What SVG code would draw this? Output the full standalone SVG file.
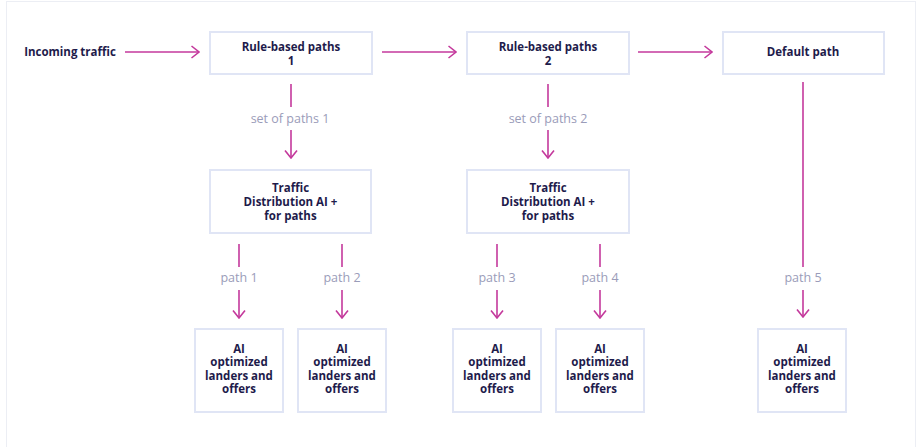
<svg xmlns="http://www.w3.org/2000/svg" width="921" height="447" viewBox="0 0 921 447">
<defs>
<style>
.box{fill:#ffffff;stroke:#e0e5f5;stroke-width:2}
.t{font-family:"Open Sans","Noto Sans",sans-serif;font-weight:700;font-size:11.5px;fill:#1e1b4b;text-anchor:middle}
.lbl{font-family:"Open Sans","Noto Sans",sans-serif;font-size:12.5px;fill:#9a9cb9;text-anchor:middle}
.ln{stroke:#c4399c;stroke-width:1.6;fill:none}
</style>
<marker id="ah" viewBox="0 0 10 14" refX="9" refY="7" markerWidth="10" markerHeight="14" markerUnits="userSpaceOnUse" orient="auto">
<path d="M1.5,1 L9,7 L1.5,13" fill="none" stroke="#c4399c" stroke-width="1.6"/>
</marker>
</defs>
<rect x="0" y="0" width="921" height="447" fill="#ffffff"/>
<rect x="6.5" y="1.5" width="909" height="460" fill="none" stroke="#eceef4" stroke-width="1"/>

<g id="incoming"><text class="t" x="70" y="56">Incoming traffic</text></g>
<g id="rule1"><rect class="box" x="210" y="32" width="162" height="42"/><text class="t" x="291" y="51">Rule-based paths</text><text class="t" x="291" y="65">1</text></g>
<g id="rule2"><rect class="box" x="467" y="32" width="162" height="42"/><text class="t" x="548" y="51">Rule-based paths</text><text class="t" x="548" y="65">2</text></g>
<g id="default"><rect class="box" x="723" y="32" width="161" height="42"/><text class="t" x="803" y="56">Default path</text></g>
<g id="tda1"><rect class="box" x="210" y="170" width="161" height="63"/><text class="t" x="290.5" y="192">Traffic</text><text class="t" x="290.5" y="206">Distribution AI +</text><text class="t" x="290.5" y="219.5">for paths</text></g>
<g id="tda2"><rect class="box" x="467" y="170" width="162" height="63"/><text class="t" x="548" y="192">Traffic</text><text class="t" x="548" y="206">Distribution AI +</text><text class="t" x="548" y="219.5">for paths</text></g>
<g id="ai1"><rect class="box" x="195" y="329" width="88" height="83"/><text class="t" x="239" y="352.5">AI</text><text class="t" x="239" y="366">optimized</text><text class="t" x="239" y="379.5">landers and</text><text class="t" x="239" y="393">offers</text></g>
<g id="ai2"><rect class="box" x="298" y="329" width="88" height="83"/><text class="t" x="342" y="352.5">AI</text><text class="t" x="342" y="366">optimized</text><text class="t" x="342" y="379.5">landers and</text><text class="t" x="342" y="393">offers</text></g>
<g id="ai3"><rect class="box" x="453" y="329" width="88" height="83"/><text class="t" x="497" y="352.5">AI</text><text class="t" x="497" y="366">optimized</text><text class="t" x="497" y="379.5">landers and</text><text class="t" x="497" y="393">offers</text></g>
<g id="ai4"><rect class="box" x="556" y="329" width="88" height="83"/><text class="t" x="600" y="352.5">AI</text><text class="t" x="600" y="366">optimized</text><text class="t" x="600" y="379.5">landers and</text><text class="t" x="600" y="393">offers</text></g>
<g id="ai5"><rect class="box" x="758" y="329" width="88" height="83"/><text class="t" x="802" y="352.5">AI</text><text class="t" x="802" y="366">optimized</text><text class="t" x="802" y="379.5">landers and</text><text class="t" x="802" y="393">offers</text></g>

<g id="connectors">
<line class="ln" x1="125" y1="52" x2="199" y2="52" marker-end="url(#ah)"/>
<line class="ln" x1="382" y1="52" x2="456" y2="52" marker-end="url(#ah)"/>
<line class="ln" x1="638" y1="52" x2="712" y2="52" marker-end="url(#ah)"/>

<line class="ln" x1="291" y1="84" x2="291" y2="107"/>
<text class="lbl" x="290" y="122.5">set of paths 1</text>
<line class="ln" x1="291" y1="130" x2="291" y2="158" marker-end="url(#ah)"/>

<line class="ln" x1="548" y1="84" x2="548" y2="107"/>
<text class="lbl" x="548" y="122.5">set of paths 2</text>
<line class="ln" x1="548" y1="130" x2="548" y2="158" marker-end="url(#ah)"/>

<line class="ln" x1="239" y1="244" x2="239" y2="267"/>
<text class="lbl" x="239" y="282">path 1</text>
<line class="ln" x1="239" y1="290" x2="239" y2="318" marker-end="url(#ah)"/>

<line class="ln" x1="342" y1="244" x2="342" y2="267"/>
<text class="lbl" x="342" y="282">path 2</text>
<line class="ln" x1="342" y1="290" x2="342" y2="318" marker-end="url(#ah)"/>

<line class="ln" x1="497" y1="244" x2="497" y2="267"/>
<text class="lbl" x="497" y="282">path 3</text>
<line class="ln" x1="497" y1="290" x2="497" y2="318" marker-end="url(#ah)"/>

<line class="ln" x1="600" y1="244" x2="600" y2="267"/>
<text class="lbl" x="600" y="282">path 4</text>
<line class="ln" x1="600" y1="290" x2="600" y2="318" marker-end="url(#ah)"/>

<line class="ln" x1="803" y1="82" x2="803" y2="267"/>
<text class="lbl" x="803" y="282">path 5</text>
<line class="ln" x1="803" y1="290" x2="803" y2="317" marker-end="url(#ah)"/>
</g>
</svg>
